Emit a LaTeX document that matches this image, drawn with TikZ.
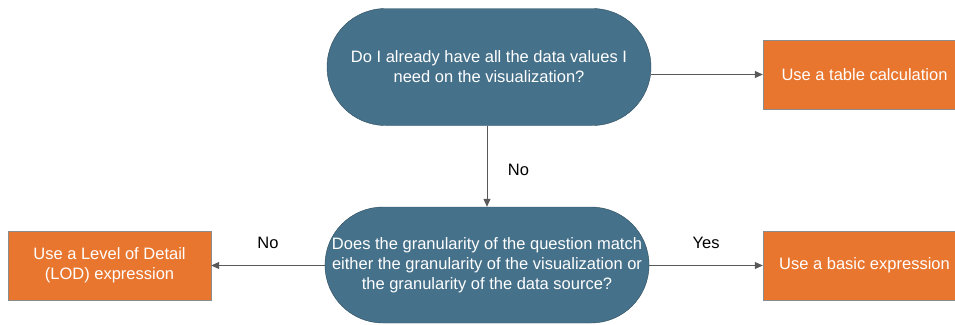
\documentclass[tikz,border=0pt]{standalone}
\usepackage{fontspec}
\setmainfont{Liberation Sans}
\usepackage{xcolor}
\usetikzlibrary{shapes.misc, arrows.meta, positioning}
\definecolor{qblue}{HTML}{46718A}
\definecolor{qedge}{HTML}{2E4D5E}
\definecolor{aorange}{HTML}{E8762F}
\definecolor{aedge}{HTML}{8C8C8C}
\definecolor{lgray}{HTML}{595959}
\tikzset{
  question/.style={draw=qedge, fill=qblue, rounded rectangle, text=white, align=center, font=\fontsize{16.5}{20}\selectfont, inner sep=0pt},
  answer/.style={draw=aedge, fill=aorange, rectangle, text=white, align=center, font=\fontsize{16.5}{20}\selectfont, inner sep=0pt, minimum width=203pt, minimum height=69pt},
  link/.style={draw=lgray, line width=1pt, -{Triangle[length=8pt, width=7pt]}},
  tag/.style={font=\fontsize{16.5}{20}\selectfont}
}

\begin{document}
\begin{tikzpicture}[x=1pt, y=-1pt]
\useasboundingbox (0,0) rectangle (955,324);
% Decisions
\node (ask) at (489,67) [question, minimum width=324pt, minimum height=117pt] {Do I already have all the data values I\\need on the visualization?};
\node (grain) at (487,265) [question, minimum width=323pt, minimum height=116pt] {Does the granularity of the question match\\either the granularity of the visualization or\\the granularity of the data source?};

% Outcomes (right column runs past the page edge)
\node (tablecalc) at (864.5,74.5) [answer] {Use a table calculation};
\node (basic) at (864.5,265.5) [answer] {Use a basic expression};
\node (lod) at (109.5,265.5) [answer] {Use a Level of Detail\\(LOD) expression};

% Connectors
\draw [link] (ask.east |- tablecalc.west) -- (tablecalc.west);
\draw [link] (ask.south -| grain.north) -- node[tag, right=17pt, yshift=-4pt] {No} (grain.north);
\draw [link] (grain.east |- basic.west) -- node[tag, above=13pt] {Yes} (basic.west);
\draw [link] (grain.west |- lod.east) -- node[tag, above=13pt] {No} (lod.east);

\end{tikzpicture}
\end{document}
